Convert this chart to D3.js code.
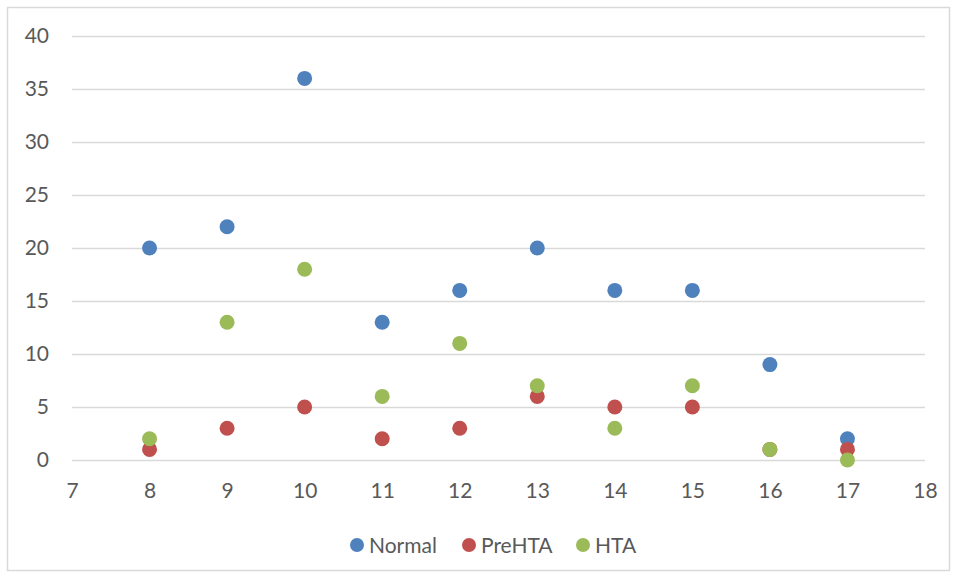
<!DOCTYPE html>
<html><head><meta charset="utf-8">
<script src="https://cdn.jsdelivr.net/npm/d3@7"></script>
<style>body{margin:0;background:#fff;} text{font-family:Lato,"Open Sans",sans-serif;}</style>
</head><body>
<svg id="c" width="956" height="577"></svg>
<script>
const xs = [8,9,10,11,12,13,14,15,16,17];
const normal = [20,22,36,13,16,20,16,16,9,2];
const preHTA = [1,3,5,2,3,6,5,5,1,1];
const hta = [2,13,18,6,11,7,3,7,1,0];
const seriesNames = ["Normal","PreHTA","HTA"];
const colors = ["#4f81bd","#c0504d","#9bbb59"];
const xTicks = [7,8,9,10,11,12,13,14,15,16,17,18];
const yTicks = [0,5,10,15,20,25,30,35,40];

const svg = d3.select("#c");
svg.append("rect").attr("x",7.5).attr("y",7.5).attr("width",942).attr("height",563)
  .attr("fill","#fff").attr("stroke","#d9d9d9").attr("stroke-width",1.5);

const x = d3.scaleLinear().domain([7,18]).range([72,925]);
const y = d3.scaleLinear().domain([0,40]).range([460,36]);

const gy = svg.append("g").attr("transform","translate(72,0)")
  .call(d3.axisLeft(y).tickValues(yTicks).tickSize(-853).tickPadding(23).tickFormat(d3.format("d")));
gy.select(".domain").remove();
gy.selectAll(".tick line").attr("stroke","#d9d9d9").attr("stroke-width",1.5);
gy.selectAll(".tick text").attr("fill","#595959").style("font-size","21px");

const gx = svg.append("g").attr("transform","translate(0,460)")
  .call(d3.axisBottom(x).tickValues(xTicks).tickSize(0).tickPadding(23).tickFormat(d3.format("d")));
gx.select(".domain").remove();
gx.selectAll(".tick text").attr("fill","#595959").style("font-size","21px");

const data = [normal, preHTA, hta];
data.forEach((vals,i)=>{
  svg.append("g").selectAll("circle").data(vals).join("circle")
    .attr("cx",(d,j)=>x(xs[j])).attr("cy",d=>y(d)).attr("r",7.5).attr("fill",colors[i]);
});

const legX = [357,469,583];
seriesNames.forEach((n,i)=>{
  svg.append("circle").attr("cx",legX[i]).attr("cy",545).attr("r",7).attr("fill",colors[i]);
  svg.append("text").attr("x",legX[i]+12).attr("y",552.5).text(n)
    .attr("fill","#595959").style("font-size","21px");
});
</script>
</body></html>
